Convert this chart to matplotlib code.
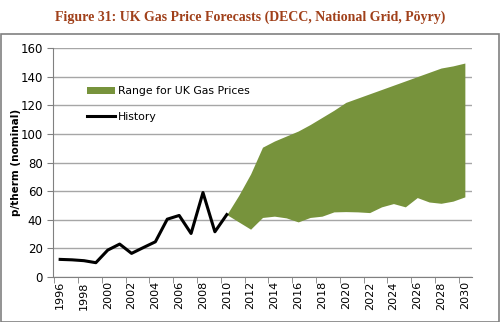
import matplotlib
matplotlib.use("Agg")
import matplotlib.pyplot as plt
from matplotlib.patches import Rectangle, Patch
from matplotlib.lines import Line2D

hist_years = list(range(1996, 2011))
hist_vals = [12.3, 12, 11.4, 10, 18.8, 23, 16.5, 20.6, 24.6, 40.4, 43, 30.4, 59, 31.6, 43.6]

range_years = list(range(2010, 2031))
range_upper = [43.6, 57, 72, 90.7, 95, 98.5, 102, 106.5, 111.5, 116.5, 122, 125, 128, 131, 134, 137, 140, 143, 146, 147.5, 149.5]
range_lower = [43.6, 38.5, 33.4, 41.6, 42.5, 41.3, 38.5, 41.6, 42.5, 45.5, 45.7, 45.5, 45, 49, 51.3, 49, 55.5, 52.4, 51.5, 53, 56]

year_labels = [str(y) for y in range(1996, 2031, 2)]
y_ticks = list(range(0, 161, 20))

title = "Figure 31: UK Gas Price Forecasts (DECC, National Grid, Pöyry)"
ylabel = "p/therm (nominal)"
green = "#77933c"

fig = plt.figure(figsize=(5.01, 3.22), dpi=100)
fig.patches.append(Rectangle((1/501, 0.5/322), 498/501, 288/322, transform=fig.transFigure,
                             fill=False, edgecolor="#808080", linewidth=1.2))
fig.text(0.5, 1 - 17/322, title, ha="center", va="center", color="#a0401a",
         fontsize=10, fontweight="bold", family="Liberation Serif")

ax = fig.add_axes([53/501, 45/322, (472-53)/501, (277-48)/322])
ax.fill_between(range_years, range_lower, range_upper, color=green, linewidth=0, zorder=2)
ax.plot(hist_years, hist_vals, color="black", linewidth=2.2, zorder=3)

ax.set_xlim(1995.4, 2030.6)
ax.set_ylim(0, 160)
ax.set_yticks(y_ticks)
ax.yaxis.grid(True, color="#a6a6a6", linewidth=1)
ax.set_axisbelow(True)
ax.set_xticks(range(1996, 2031, 2))
ax.set_xticklabels(year_labels, rotation=90, fontsize=8)
ax.tick_params(axis="x", length=0, pad=3)
ax.set_xticks([1995.5 + 2*k for k in range(18)], minor=True)
ax.tick_params(axis="x", which="minor", length=4, color="#808080")
ax.tick_params(axis="y", labelsize=8.5, length=4, color="#808080")
for s in ["top", "right"]:
    ax.spines[s].set_visible(False)
for s in ["left", "bottom"]:
    ax.spines[s].set_color("#808080")
ax.set_ylabel(ylabel, fontsize=7.5, fontweight="bold")
ax.yaxis.set_label_coords(-(53-21)/419, 0.5)

handles = [Patch(facecolor=green, edgecolor="none"), Line2D([], [], color="black", linewidth=2.2)]
ax.legend(handles, ["Range for UK Gas Prices", "History"], loc="upper left",
          bbox_to_anchor=(0.057, 0.875), frameon=False, fontsize=7.8, handlelength=2.6,
          handletextpad=0.25, labelspacing=1.45)

fig.savefig("out.png", dpi=100)
